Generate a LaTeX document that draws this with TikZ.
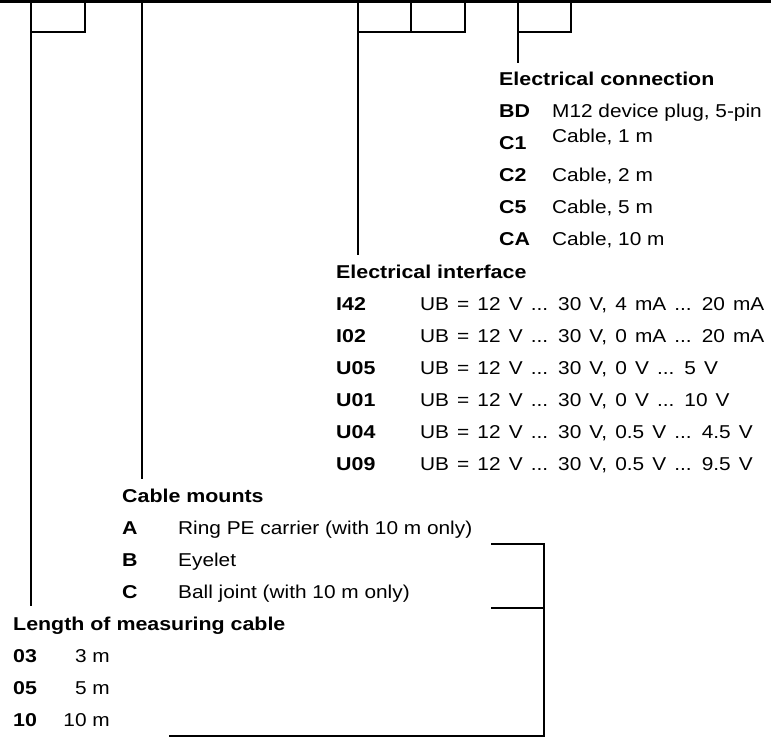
\documentclass[tikz,border=0pt]{standalone}
\usepackage{fontspec}
\setmainfont{Liberation Sans}[FakeStretch=1.12, BoldFeatures={FakeStretch=1.15}]
\newfontfamily\ubfont{Liberation Sans}[FakeStretch=1.12, WordSpace=1.4]
\begin{document}
\begin{tikzpicture}[x=1pt,y=-1pt,
  conn/.style={line width=1.6pt, line cap=butt, line join=miter},
  bar/.style={fill=black},
  hdr/.style={anchor=base west, inner sep=0pt, font=\fontsize{18.6}{20}\selectfont\bfseries},
  code/.style={anchor=base west, inner sep=0pt, font=\fontsize{18.6}{20}\selectfont\bfseries},
  desc/.style={anchor=base west, inner sep=0pt, font=\fontsize{18.6}{20}\selectfont},
  ubdesc/.style={anchor=base west, inner sep=0pt, font=\fontsize{18.6}{20}\ubfont},
  descr/.style={anchor=base east, inner sep=0pt, font=\fontsize{18.6}{20}\selectfont}]
\useasboundingbox (0,0) rectangle (771,738);
\fill[bar] (0,0) rectangle (771,3.5);

% top anchors
\coordinate (tL) at (31,0);   \coordinate (tLs) at (85,0);  \coordinate (jL) at (31,32);
\coordinate (tM) at (142,0);
\coordinate (tI) at (358,0);  \coordinate (tIs1) at (411,0); \coordinate (tIs2) at (465,0); \coordinate (jI) at (358,32);
\coordinate (tE) at (518,0);  \coordinate (tEs) at (571,0);  \coordinate (jE) at (518,32);

% line ends above headers
\coordinate (eL) at (31,606);
\coordinate (eM) at (142,479);
\coordinate (eI) at (358,255);
\coordinate (eE) at (518,63);

% Electrical connection
\node[hdr] (hE) at (499,86) {Electrical connection};
\node[code] (eBD) at (499,118) {BD}; \node[desc] (dBD) at (552,118) {M12 device plug, 5-pin};
\node[code] (eC1) at (499,150) {C1}; \node[desc] (dC1) at (552,143) {Cable, 1 m};
\node[code] (eC2) at (499,182) {C2}; \node[desc] (dC2) at (552,182) {Cable, 2 m};
\node[code] (eC5) at (499,214) {C5}; \node[desc] (dC5) at (552,214) {Cable, 5 m};
\node[code] (eCA) at (499,246) {CA}; \node[desc] (dCA) at (552,246) {Cable, 10 m};

% Electrical interface
\node[hdr] (hI) at (336,278) {Electrical interface};
\node[code] (iI42) at (336,310) {I42}; \node[ubdesc] (dI42) at (420,310) {UB = 12 V ... 30 V, 4 mA ... 20 mA};
\node[code] (iI02) at (336,342) {I02}; \node[ubdesc] (dI02) at (420,342) {UB = 12 V ... 30 V, 0 mA ... 20 mA};
\node[code] (iU05) at (336,374) {U05}; \node[ubdesc] (dU05) at (420,374) {UB = 12 V ... 30 V, 0 V ... 5 V};
\node[code] (iU01) at (336,406) {U01}; \node[ubdesc] (dU01) at (420,406) {UB = 12 V ... 30 V, 0 V ... 10 V};
\node[code] (iU04) at (336,438) {U04}; \node[ubdesc] (dU04) at (420,438) {UB = 12 V ... 30 V, 0.5 V ... 4.5 V};
\node[code] (iU09) at (336,470) {U09}; \node[ubdesc] (dU09) at (420,470) {UB = 12 V ... 30 V, 0.5 V ... 9.5 V};

% Cable mounts
\node[hdr] (hM) at (122,502) {Cable mounts};
\node[code] (mA) at (122,534) {A}; \node[desc] (dA) at (178,534) {Ring PE carrier (with 10 m only)};
\node[code] (mB) at (122,566) {B}; \node[desc] (dB) at (178,566) {Eyelet};
\node[code] (mC) at (122,598) {C}; \node[desc] (dC) at (178,598) {Ball joint (with 10 m only)};

% Length of measuring cable
\node[hdr] (hL) at (13,630) {Length of measuring cable};
\node[code] (l03) at (13,662) {03}; \node[descr] (d03) at (110,662) {3 m};
\node[code] (l05) at (13,694) {05}; \node[descr] (d05) at (110,694) {5 m};
\node[code] (l10) at (13,726) {10}; \node[descr] (d10) at (110,726) {10 m};

% connectors
\draw[conn] (tL) -- (eL);
\draw[conn] (tLs) |- (jL);
\draw[conn] (tM) -- (eM);
\draw[conn] (tI) -- (eI);
\draw[conn] (tIs1) -- (tIs1 |- jI);
\draw[conn] (tIs2) |- (jI);
\draw[conn] (tE) -- (eE);
\draw[conn] (tEs) |- (jE);

% bracket
\coordinate (b1) at (491,544);
\coordinate (b2) at (544,736);
\coordinate (b3) at (169,736);
\coordinate (b4) at (491,608);
\draw[conn] (b1) -| (b2) -- (b3);
\draw[conn] (b4) -- (b4 -| b2);
\end{tikzpicture}
\end{document}
